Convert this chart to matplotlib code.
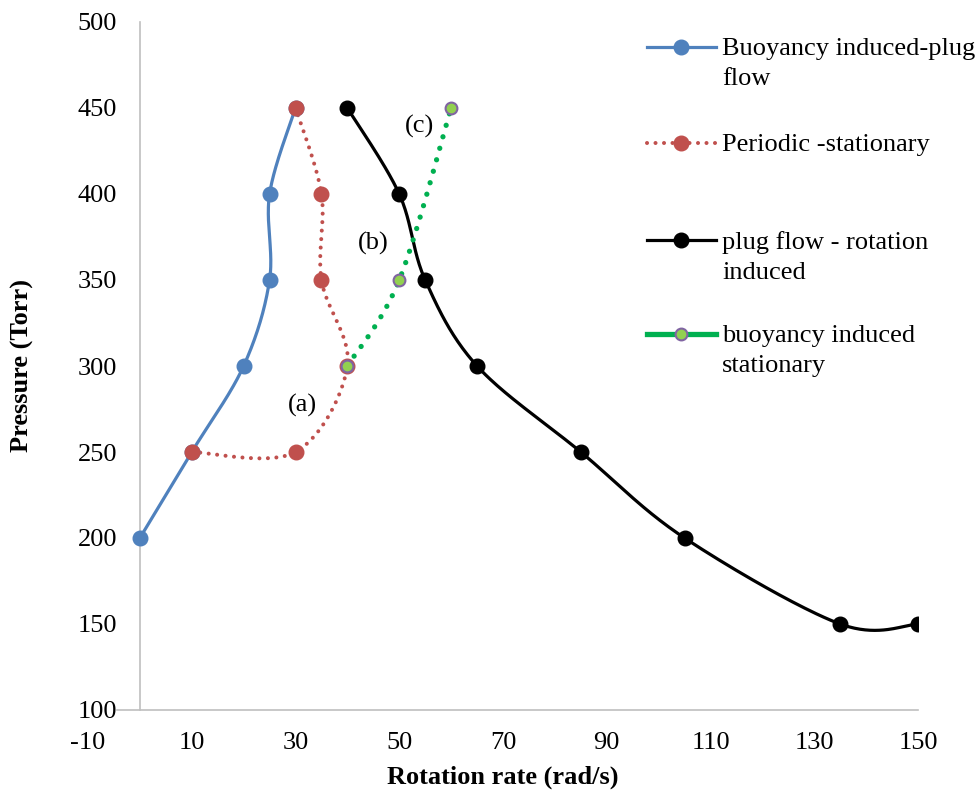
import numpy as np
import matplotlib
matplotlib.use("Agg")
import matplotlib.pyplot as plt
from matplotlib.lines import Line2D

plt.rcParams["font.family"] = ["Liberation Serif", "DejaVu Serif"]
plt.rcParams["axes.unicode_minus"] = False

# Regime boundaries: rotation rate (rad/s) vs pressure (Torr)
buoy_plug_x = [0, 10, 20, 25, 25, 30]
buoy_plug_y = [200, 250, 300, 350, 400, 450]

periodic_x = [10, 30, 40, 35, 35, 30]
periodic_y = [250, 250, 300, 350, 400, 450]

plug_rot_x = [40, 50, 55, 65, 85, 105, 135, 150]
plug_rot_y = [450, 400, 350, 300, 250, 200, 150, 150]

buoy_stat_x = [40, 50, 60]
buoy_stat_y = [300, 350, 450]

labels = ["Buoyancy induced-plug\nflow", "Periodic -stationary",
          "plug flow - rotation\ninduced", "buoyancy induced\nstationary"]

region_labels = ["(a)", "(b)", "(c)"]
region_x = [31.4, 44.9, 54.0]
region_y = [277, 371, 439]

BLUE, RED, BLACK, GREEN = "#4F81BD", "#C0504D", "#000000", "#00B050"
GREEN_FILL, PURPLE = "#92D050", "#8064A2"

fig = plt.figure(figsize=(9.79, 7.93), dpi=100)
ax = fig.add_axes([88 / 979, 1 - 710 / 793, 830 / 979, 688 / 793])
ax.set_xlim(-10, 150)
ax.set_ylim(100, 500)

SX, SY = 830 / 160, 688 / 400  # pixel scale used for smoothing


def smooth(xs, ys, n=40):
    """Cardinal (Catmull-Rom) Bezier smoothing in screen-proportional space."""
    p = np.column_stack([np.asarray(xs, float) * SX, np.asarray(ys, float) * SY])
    ext = np.vstack([p[0], p, p[-1]])
    out = []
    t = np.linspace(0, 1, n)[:, None]
    for i in range(len(p) - 1):
        p0, p1, p2, p3 = ext[i], ext[i + 1], ext[i + 2], ext[i + 3]
        c1 = p1 + (p2 - p0) / 6
        c2 = p2 - (p3 - p1) / 6
        seg = ((1 - t) ** 3) * p1 + 3 * ((1 - t) ** 2) * t * c1 + 3 * (1 - t) * t ** 2 * c2 + t ** 3 * p2
        out.append(seg if i == 0 else seg[1:])
    out = np.vstack(out)
    return out[:, 0] / SX, out[:, 1] / SY


RED_DOTS = (0, (0.01, 2.1))
GREEN_DOTS = (0, (0.01, 2.25))

# Blue solid
sx, sy = smooth(buoy_plug_x, buoy_plug_y)
ax.plot(sx, sy, color=BLUE, lw=2.3, solid_capstyle="round", zorder=3)
ax.plot(buoy_plug_x, buoy_plug_y, "o", color=BLUE, ms=10.5, zorder=4)

# Red dotted
sx, sy = smooth(periodic_x, periodic_y)
ax.plot(sx, sy, color=RED, lw=2.9, linestyle=RED_DOTS, dash_capstyle="round", zorder=3)
ax.plot(periodic_x, periodic_y, "o", color=RED, ms=10.5, zorder=4)

# Black solid
sx, sy = smooth(plug_rot_x, plug_rot_y)
ax.plot(sx, sy, color=BLACK, lw=2.3, zorder=3)
ax.plot(plug_rot_x, plug_rot_y, "o", color=BLACK, ms=10.5, zorder=4)

# Green dotted
sx, sy = smooth(buoy_stat_x, buoy_stat_y)
ax.plot(sx, sy, color=GREEN, lw=3.8, linestyle=GREEN_DOTS, dash_capstyle="round", zorder=3)
ax.plot(buoy_stat_x, buoy_stat_y, "o", color=GREEN_FILL, mec=PURPLE, mew=1.5, ms=8.5, zorder=5)

for t, x, y in zip(region_labels, region_x, region_y):
    ax.text(x, y, t, fontsize=19, ha="center", va="center", zorder=6)

# Axes styling: vertical axis crosses at x = 0
for s in ["top", "right"]:
    ax.spines[s].set_visible(False)
ax.spines["left"].set_position(("data", 0))
ax.spines["bottom"].set_bounds(-4.4, 150)
for s in ["left", "bottom"]:
    ax.spines[s].set_color("#BFBFBF")
    ax.spines[s].set_linewidth(1.2)
ax.set_xticks(np.arange(-10, 151, 20))
ax.set_yticks(np.arange(100, 501, 50))
ax.tick_params(axis="y", length=0, pad=16.5, labelsize=19)
ax.tick_params(axis="x", length=0, pad=16, labelsize=19)

fig.text(503 / 979, 1 - 777 / 793, "Rotation rate (rad/s)", fontsize=19, fontweight="bold",
         ha="center", va="center")
fig.text(22 / 979, 1 - 366 / 793, "Pressure (Torr)", fontsize=19, fontweight="bold",
         ha="center", va="center", rotation=90)

# Legend drawn at fixed positions, handle aligned with first label line
leg_y = [47, 143, 240, 334]
styles = [
    dict(color=BLUE, lw=2.3, marker="o", ms=10.5, mfc=BLUE, mec=BLUE),
    dict(color=RED, lw=2.9, linestyle=RED_DOTS, dash_capstyle="round",
         marker="o", ms=10.5, mfc=RED, mec=RED),
    dict(color=BLACK, lw=2.3, marker="o", ms=10.5, mfc=BLACK, mec=BLACK),
    dict(color=GREEN, lw=3.8, marker="o", ms=8.5, mfc=GREEN_FILL, mec=PURPLE, mew=1.5),
]
for yp, lab, st in zip(leg_y, labels, styles):
    yf = 1 - yp / 793
    line = Line2D([647 / 979, 716 / 979], [yf, yf], transform=fig.transFigure, markevery=[], **st)
    fig.add_artist(line)
    mk = Line2D([681 / 979], [yf], transform=fig.transFigure, linestyle="none",
                marker="o", ms=st["ms"], mfc=st["mfc"], mec=st["mec"], mew=st.get("mew", 1))
    fig.add_artist(mk)
    fig.text(722 / 979, yf + 9 / 793, lab, fontsize=19, ha="left", va="top", linespacing=1.45)

fig.savefig("out.png", dpi=100)
